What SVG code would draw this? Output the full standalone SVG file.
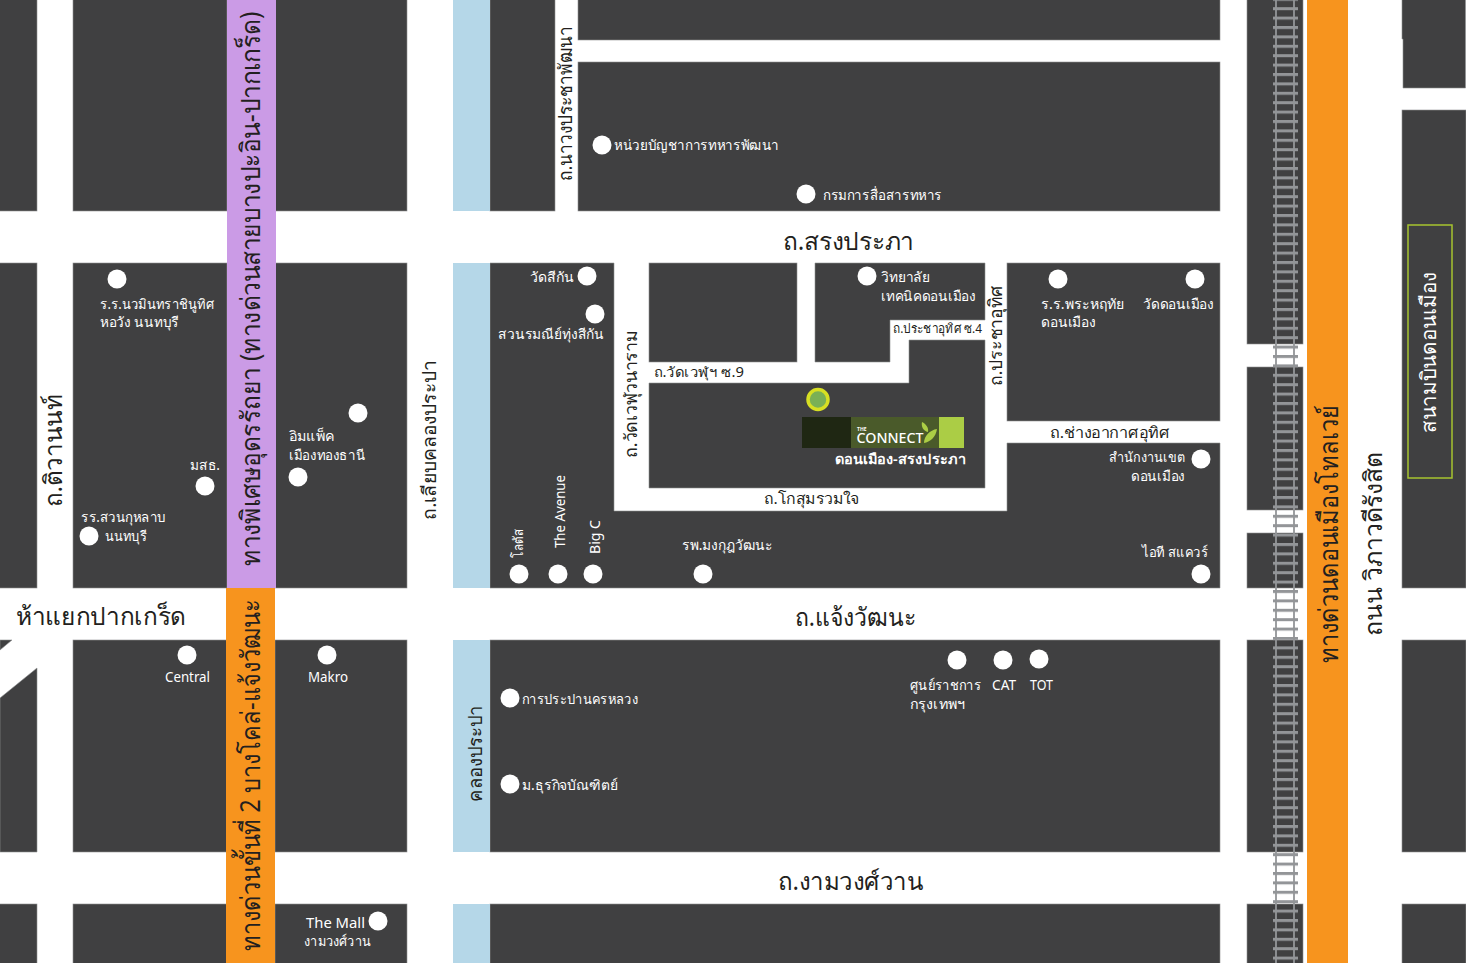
<svg xmlns="http://www.w3.org/2000/svg" width="1466" height="963" viewBox="0 0 1466 963">
<style>
text{font-family:"Noto Sans","Liberation Sans","DejaVu Sans",sans-serif}
.b{fill:#404041;stroke:#8f9092;stroke-width:.6}
.w{fill:#fff}
.l{font-size:14px;fill:#fff}
.m{font-size:14px;fill:#231f20}
.h{font-size:25px;fill:#231f20}
.x{font-size:27px;fill:#231f20}
.rail{fill:none;stroke:#939598;stroke-width:1.8}
</style>
<defs>
<pattern id="ties" x="1273" y="308" width="25" height="9.4" patternUnits="userSpaceOnUse"><rect width="25" height="3" fill="#939598"/></pattern>
</defs>
<rect width="1466" height="963" fill="#fff"/>
<g id="blocks">
<rect class="b" x="-1" y="-1" width="38" height="212"/><rect class="b" x="-1" y="263" width="38" height="325"/>
<path class="b" d="M0 640H12L0 650Z"/><path class="b" d="M0 698L37 668V852H0Z"/><rect class="b" x="-1" y="904" width="38" height="60"/>
<rect class="b" x="73" y="-1" width="154" height="212"/><rect class="b" x="73" y="263" width="154" height="325"/><rect class="b" x="73" y="640" width="154" height="212"/><rect class="b" x="73" y="904" width="154" height="60"/>
<rect class="b" x="275" y="-1" width="132" height="212"/><rect class="b" x="275" y="263" width="132" height="325"/><rect class="b" x="275" y="640" width="132" height="212"/><rect class="b" x="275" y="904" width="132" height="60"/>
<rect class="b" x="490" y="-1" width="65" height="212"/>
<rect class="b" x="578" y="-1" width="642" height="41"/><rect class="b" x="578" y="62" width="642" height="149"/>
<path class="b" d="M490 263H614V511H1007V443H1220V588H490Z"/>
<rect class="b" x="649" y="263" width="148" height="99"/>
<path class="b" d="M815 263H985V320H890V362H815Z"/>
<path class="b" d="M649 383H909V340H985V488H649Z"/>
<rect class="b" x="1007" y="263" width="213" height="158"/>
<rect class="b" x="490" y="640" width="730" height="212"/><rect class="b" x="490" y="904" width="730" height="60"/>
<rect class="b" x="1247" y="-1" width="56" height="345"/><rect class="b" x="1247" y="367" width="56" height="143"/><rect class="b" x="1247" y="533" width="56" height="55"/><rect class="b" x="1247" y="640" width="56" height="212"/><rect class="b" x="1247" y="904" width="56" height="60"/>
<path class="b" d="M1402 -1H1465.500V88H1403V39H1402Z"/><rect class="b" x="1402" y="110" width="64" height="478"/><rect class="b" x="1402" y="640" width="64" height="212"/><rect class="b" x="1402" y="904" width="64" height="60"/>
</g>
<g id="water" fill="#b5d7e8">
<rect x="453" y="0" width="37" height="211"/><rect x="453" y="263" width="37" height="325"/><rect x="453" y="640" width="37" height="212"/><rect x="453" y="904" width="37" height="59"/>
</g>
<g id="expressways">
<rect x="227" y="0" width="49" height="588" fill="#cb9be6"/>
<rect x="226" y="588" width="49" height="375" fill="#f7941e"/>
<rect x="1307" y="0" width="41" height="963" fill="#f7941e"/>
</g>
<g id="railway">
<rect x="1273" y="0" width="25" height="963" fill="url(#ties)"/>
<path class="rail" d="M1276 0V963M1294 0V963"/>
</g>
<g id="road-labels">
<text class="x" transform="translate(260,566) rotate(-90) scale(.74,1)" textLength="749" lengthAdjust="spacingAndGlyphs">ทางพิเศษอุดรรัถยา (ทางด่วนสายบางปะอิน-ปากเกร็ด)</text>
<text class="x" transform="translate(260,951) rotate(-90)" textLength="352" lengthAdjust="spacingAndGlyphs">ทางด่วนขั้นที่ 2 บางโคล่-แจ้งวัฒนะ</text>
<text class="h" transform="translate(62,507) rotate(-90)" textLength="112" lengthAdjust="spacingAndGlyphs">ถ.ติวานนท์</text>
<text class="h" x="16" y="625" textLength="170" lengthAdjust="spacingAndGlyphs">ห้าแยกปากเกร็ด</text>
<text class="m" style="font-size:19px" transform="translate(436,520) rotate(-90)" textLength="160" lengthAdjust="spacingAndGlyphs">ถ.เลียบคลองประปา</text>
<text class="m" style="font-size:19px" transform="translate(482,802) rotate(-90)" textLength="97" lengthAdjust="spacingAndGlyphs">คลองประปา</text>
<text class="m" style="font-size:19px" transform="translate(572,181) rotate(-90)" textLength="155" lengthAdjust="spacingAndGlyphs">ถ.นาวงประชาพัฒนา</text>
<text class="h" x="783" y="250" textLength="131" lengthAdjust="spacingAndGlyphs">ถ.สรงประภา</text>
<text class="h" x="795" y="626" textLength="121" lengthAdjust="spacingAndGlyphs">ถ.แจ้งวัฒนะ</text>
<text class="h" x="778" y="890" textLength="145" lengthAdjust="spacingAndGlyphs">ถ.งามวงศ์วาน</text>
<text class="m" style="font-size:18px" transform="translate(637,458) rotate(-90)" textLength="128" lengthAdjust="spacingAndGlyphs">ถ.วัดเวฬุวนาราม</text>
<text class="m" style="font-size:18px" transform="translate(1002,386) rotate(-90)" textLength="100" lengthAdjust="spacingAndGlyphs">ถ.ประชาอุทิศ</text>
<text class="m" style="font-size:13px" x="893" y="333" textLength="89" lengthAdjust="spacingAndGlyphs">ถ.ประชาอุทิศ ซ.4</text>
<text class="m" x="654" y="377" textLength="90" lengthAdjust="spacingAndGlyphs">ถ.วัดเวฬุฯ ซ.9</text>
<text class="m" style="font-size:15px" x="764" y="504" textLength="96" lengthAdjust="spacingAndGlyphs">ถ.โกสุมรวมใจ</text>
<text class="m" style="font-size:15px" x="1050" y="438" textLength="120" lengthAdjust="spacingAndGlyphs">ถ.ช่างอากาศอุทิศ</text>
<text class="x" transform="translate(1338,663) rotate(-90)" textLength="258" lengthAdjust="spacingAndGlyphs">ทางด่วนดอนเมืองโทลเวย์</text>
<text class="h" transform="translate(1382,636) rotate(-90)" textLength="184" lengthAdjust="spacingAndGlyphs">ถนน วิภาวดีรังสิต</text>
</g>
<g id="airport">
<rect x="1408" y="225" width="44" height="253" fill="none" stroke="#a6c32f" stroke-width="1.5"/>
<text class="l" style="font-size:21px" transform="translate(1436,433) rotate(-90)" textLength="161" lengthAdjust="spacingAndGlyphs">สนามบินดอนเมือง</text>
</g>
<g id="the-connect">
<rect x="802" y="417" width="49" height="31" fill="#1f2713"/>
<rect x="851" y="417" width="88" height="31" fill="#4a5a2a"/>
<rect x="939" y="417" width="25" height="31" fill="#abcd45"/>
<circle cx="818" cy="399.500" r="10" fill="#7ab055" stroke="#d7df23" stroke-width="3.500"/>
<text x="857" y="431" style="font-size:5px;font-weight:700" fill="#fff">THE</text>
<text x="856.500" y="443" style="font-size:15px;font-weight:500" fill="#fff" textLength="67" lengthAdjust="spacingAndGlyphs">CONNECT</text>
<path d="M924 443C930 442 936 437 937 429C930 430 924 436 924 443ZM928 432C923 431 921 426 922 422C926 424 929 428 928 432Z" fill="#abcd45"/>
<text class="l" style="font-weight:600" x="835" y="464" textLength="131" lengthAdjust="spacingAndGlyphs">ดอนเมือง-สรงประภา</text>
</g>
<g id="poi-dots" class="w">
<circle cx="117" cy="279" r="9.500"/><circle cx="358" cy="413" r="9.500"/><circle cx="205" cy="486" r="9.500"/><circle cx="298" cy="477" r="9.500"/><circle cx="89" cy="536" r="9.500"/><circle cx="187" cy="655" r="9.500"/><circle cx="327" cy="655" r="9.500"/><circle cx="378" cy="921" r="9.500"/><circle cx="602" cy="145" r="9.500"/><circle cx="806" cy="194" r="9.500"/><circle cx="587" cy="276" r="9.500"/><circle cx="595" cy="314" r="9.500"/><circle cx="867" cy="276" r="9.500"/><circle cx="1058" cy="279" r="9.500"/><circle cx="1195" cy="279" r="9.500"/><circle cx="1201" cy="459" r="9.500"/><circle cx="519" cy="574" r="9.500"/><circle cx="558" cy="574" r="9.500"/><circle cx="593" cy="574" r="9.500"/><circle cx="703" cy="574" r="9.500"/><circle cx="1201" cy="574" r="9.500"/><circle cx="510" cy="698" r="9.500"/><circle cx="510" cy="784" r="9.500"/><circle cx="957" cy="660" r="9.500"/><circle cx="1003" cy="660" r="9.500"/><circle cx="1039" cy="659" r="9.500"/>
</g>
<g id="poi-labels">
<text class="l" x="614" y="150" textLength="165" lengthAdjust="spacingAndGlyphs">หน่วยบัญชาการทหารพัฒนา</text>
<text class="l" x="823" y="200" textLength="119" lengthAdjust="spacingAndGlyphs">กรมการสื่อสารทหาร</text>
<text class="l" x="530" y="282" textLength="44" lengthAdjust="spacingAndGlyphs">วัดสีกัน</text>
<text class="l" x="498" y="339" textLength="106" lengthAdjust="spacingAndGlyphs">สวนรมณีย์ทุ่งสีกัน</text>
<text class="l" x="881" y="282" textLength="49" lengthAdjust="spacingAndGlyphs">วิทยาลัย</text>
<text class="l" x="881" y="301" textLength="95" lengthAdjust="spacingAndGlyphs">เทคนิคดอนเมือง</text>
<text class="l" x="1041" y="309" textLength="83" lengthAdjust="spacingAndGlyphs">ร.ร.พระหฤทัย</text>
<text class="l" x="1041" y="327" textLength="55" lengthAdjust="spacingAndGlyphs">ดอนเมือง</text>
<text class="l" x="1143" y="309" textLength="71" lengthAdjust="spacingAndGlyphs">วัดดอนเมือง</text>
<text class="l" x="1109" y="462" textLength="76" lengthAdjust="spacingAndGlyphs">สำนักงานเขต</text>
<text class="l" x="1131" y="481" textLength="54" lengthAdjust="spacingAndGlyphs">ดอนเมือง</text>
<text class="l" x="1142" y="557" textLength="66" lengthAdjust="spacingAndGlyphs">ไอที สแควร์</text>
<text class="l" x="682" y="550" textLength="91" lengthAdjust="spacingAndGlyphs">รพ.มงกุฎวัฒนะ</text>
<text class="l" transform="translate(523,558) rotate(-90)" textLength="29" lengthAdjust="spacingAndGlyphs">โลตัส</text>
<text class="l" transform="translate(565,548) rotate(-90)" textLength="73" lengthAdjust="spacingAndGlyphs">The Avenue</text>
<text class="l" transform="translate(600,554) rotate(-90)" textLength="34" lengthAdjust="spacingAndGlyphs">Big C</text>
<text class="l" x="100" y="309" textLength="114" lengthAdjust="spacingAndGlyphs">ร.ร.นวมินทราชินูทิศ</text>
<text class="l" x="100" y="327" textLength="79" lengthAdjust="spacingAndGlyphs">หอวัง นนทบุรี</text>
<text class="l" x="289" y="441" textLength="45" lengthAdjust="spacingAndGlyphs">อิมแพ็ค</text>
<text class="l" x="289" y="460" textLength="76" lengthAdjust="spacingAndGlyphs">เมืองทองธานี</text>
<text class="l" x="190" y="470" textLength="30" lengthAdjust="spacingAndGlyphs">มสธ.</text>
<text class="l" x="81" y="522" textLength="85" lengthAdjust="spacingAndGlyphs">รร.สวนกุหลาบ</text>
<text class="l" x="105" y="541" textLength="42" lengthAdjust="spacingAndGlyphs">นนทบุรี</text>
<text class="l" x="165" y="682" textLength="45" lengthAdjust="spacingAndGlyphs">Central</text>
<text class="l" x="308" y="682" textLength="40" lengthAdjust="spacingAndGlyphs">Makro</text>
<text class="l" x="522" y="704" textLength="116" lengthAdjust="spacingAndGlyphs">การประปานครหลวง</text>
<text class="l" x="522" y="790" textLength="96" lengthAdjust="spacingAndGlyphs">ม.ธุรกิจบัณฑิตย์</text>
<text class="l" x="910" y="690" textLength="71" lengthAdjust="spacingAndGlyphs">ศูนย์ราชการ</text>
<text class="l" x="910" y="709" textLength="55" lengthAdjust="spacingAndGlyphs">กรุงเทพฯ</text>
<text class="l" x="992" y="690" textLength="24" lengthAdjust="spacingAndGlyphs">CAT</text>
<text class="l" x="1030" y="690" textLength="23" lengthAdjust="spacingAndGlyphs">TOT</text>
<text class="l" x="306" y="928" textLength="59" lengthAdjust="spacingAndGlyphs">The Mall</text>
<text class="l" x="304" y="946" textLength="67" lengthAdjust="spacingAndGlyphs">งามวงศ์วาน</text>
</g>
</svg>
